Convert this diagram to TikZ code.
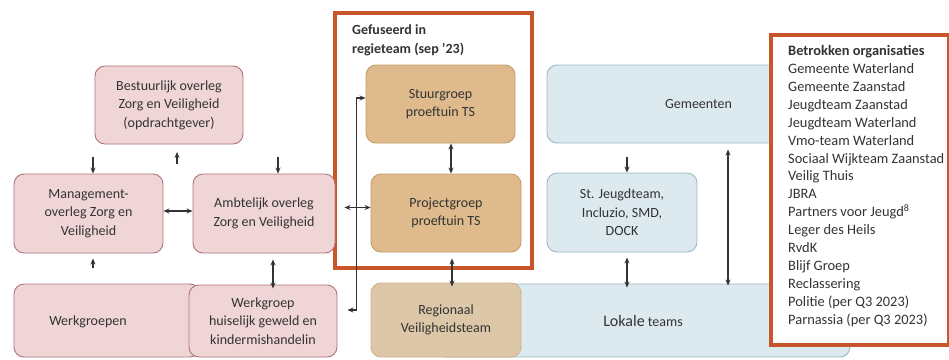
\documentclass[tikz,border=0pt]{standalone}
\usepackage{fontspec}
\setmainfont{Carlito}
\usetikzlibrary{positioning, arrows.meta, calc}
\definecolor{zvpink}{HTML}{F0D5D7}
\definecolor{zvpinkline}{HTML}{B0737A}
\definecolor{tsbrown}{HTML}{DEBA8C}
\definecolor{tsbrownline}{HTML}{C49C6C}
\definecolor{tslight}{HTML}{DDC7A9}
\definecolor{lokblue}{HTML}{DCE9EE}
\definecolor{lokblueline}{HTML}{9CBAC6}
\definecolor{kaderorange}{HTML}{C9562A}
\definecolor{tekstgrey}{HTML}{333333}

\tikzset{
  orgbox/.style={rounded corners=10pt, line width=0.9pt, align=center, inner sep=2pt,
    font=\fontsize{14}{18.5}\selectfont, text=tekstgrey},
  zvbox/.style={orgbox, fill=zvpink, draw=zvpinkline},
  tsbox/.style={orgbox, fill=tsbrown, draw=tsbrownline},
  rvtbox/.style={orgbox, fill=tslight, draw=tsbrownline!80},
  lokbox/.style={orgbox, fill=lokblue, draw=lokblueline},
  pijl/.style={draw=tekstgrey, line width=1.2pt, -{Stealth[length=6pt,width=5pt]}},
  dubbel/.style={draw=tekstgrey, line width=1.2pt,
    {Stealth[length=6pt,width=5pt]}-{Stealth[length=6pt,width=5pt]}},
  kader/.style={draw=kaderorange, line width=3.5pt}
}

\begin{document}
\begin{tikzpicture}[x=1pt, y=-1pt]
  \useasboundingbox[fill=white] (0,0) rectangle (949,359);

  % regie frame
  \draw[kader] (335,13) rectangle (532,268);
  \node[anchor=north west, align=left, inner sep=0pt, text=tekstgrey,
        font=\bfseries\fontsize{14}{19}\selectfont] (regietitel) at (352,24)
        {Gefuseerd in\\regieteam (sep ’23)};

  % zorg en veiligheid
  \node[zvbox, minimum width=148pt, minimum height=78pt] (bestuur) at (169,105)
    {Bestuurlijk overleg\\Zorg en Veiligheid\\(opdrachtgever)};
  \node[zvbox, minimum width=149pt, minimum height=79pt] (mgmt) at (88.5,213.5)
    {Management-\\overleg Zorg en\\Veiligheid};
  \node[zvbox, minimum width=142pt, minimum height=79pt] (ambt) at (264,213.5)
    {Ambtelijk overleg\\Zorg en Veiligheid};
  \node[zvbox, minimum width=186pt, minimum height=73pt] (werkgr) at (107,320.5) {};
  \node[orgbox] (werkgrtekst) at (88,322) {Werkgroepen};
  \node[zvbox, minimum width=148pt, minimum height=72pt] (huis) at (263,321)
    {Werkgroep\\huiselijk geweld en\\kindermishandelin};

  % proeftuin
  \node[tsbox, minimum width=149pt, minimum height=78pt] (stuur) at (440.5,104)
    {Stuurgroep\\proeftuin TS};
  \node[tsbox, minimum width=150pt, minimum height=78pt] (proj) at (446,213)
    {Projectgroep\\proeftuin TS};

  % lokaal
  \node[lokbox, minimum width=303pt, minimum height=78pt] (gem) at (698.5,104) {Gemeenten};
  \node[lokbox, minimum width=150pt, minimum height=79pt] (jeugd) at (622,212.5)
    {St. Jeugdteam,\\Incluzio, SMD,\\DOCK};
  \node[lokbox, minimum width=414pt, minimum height=73pt] (lokale) at (643,320.5)
    {{\fontsize{16}{18}\selectfont Lokale} teams};
  \node[rvtbox, minimum width=150pt, minimum height=74pt] (regio) at (446,320)
    {Regionaal\\Veiligheidsteam};

  % betrokken organisaties
  \node[kader, fill=white, anchor=north west, minimum width=178pt,
        minimum height=310pt] (betrokken) at (769,33) {};
  \node[anchor=north west, align=left, inner sep=0pt, text=tekstgrey,
        font=\fontsize{14.4}{17.95}\selectfont] (orglijst) at (788,45)
    {\textbf{Betrokken organisaties}\\
     Gemeente Waterland\\
     Gemeente Zaanstad\\
     Jeugdteam Zaanstad\\
     Jeugdteam Waterland\\
     Vmo-team Waterland\\
     Sociaal Wijkteam Zaanstad\\
     Veilig Thuis\\
     JBRA\\
     Partners voor Jeugd\textsuperscript{8}\\
     Leger des Heils\\
     RvdK\\
     Blijf Groep\\
     Reclassering\\
     Politie (per Q3 2023)\\
     Parnassia (per Q3 2023)};

  % arrows
  \coordinate (naarmgmt) at (93,157);
  \coordinate (naarbestuur) at (177,164);
  \coordinate (naarambt) at (278,157);
  \coordinate (vanwerkgr) at (93,268);
  \coordinate (naarjeugd) at (627,157);
  \draw[pijl] (naarmgmt) -- (naarmgmt |- mgmt.north);
  \draw[pijl] (naarbestuur) -- ++(0,-12);
  \draw[pijl] (naarambt) -- (naarambt |- ambt.north);
  \draw[pijl, shorten >=5pt] (vanwerkgr) -- (vanwerkgr |- mgmt.south);
  \draw[pijl] (naarjeugd) -- (naarjeugd |- jeugd.north);
  \draw[dubbel] ([yshift=2.5]mgmt.east) -- ([yshift=2.5]mgmt.east -| ambt.west);
  \draw[dubbel, shorten <=6pt, shorten >=-4pt] ([xshift=9]ambt.south)
    -- ([xshift=9]ambt.south |- huis.north);
  \draw[dubbel, shorten <=9pt] ([yshift=6]ambt.east) -- ([yshift=6]ambt.east -| proj.west);
  \draw[dubbel, shorten >=10pt] ([yshift=6]stuur.west) -- ++(-9,0)
    |- ([yshift=11]huis.east);
  \draw[dubbel] ([xshift=10.5]stuur.south) -- ([xshift=10.5]stuur.south |- proj.north);
  \draw[dubbel, shorten <=6pt, shorten >=-4pt] ([xshift=6]proj.south)
    -- ([xshift=6]proj.south |- regio.north);
  \draw[dubbel, shorten <=5pt, shorten >=-4pt] ([xshift=5]jeugd.south)
    -- ([xshift=5]jeugd.south |- lokale.north);
  \draw[dubbel, shorten <=6pt, shorten >=-2pt] ([xshift=29.5]gem.south)
    -- ([xshift=29.5]gem.south |- lokale.north);
\end{tikzpicture}
\end{document}
